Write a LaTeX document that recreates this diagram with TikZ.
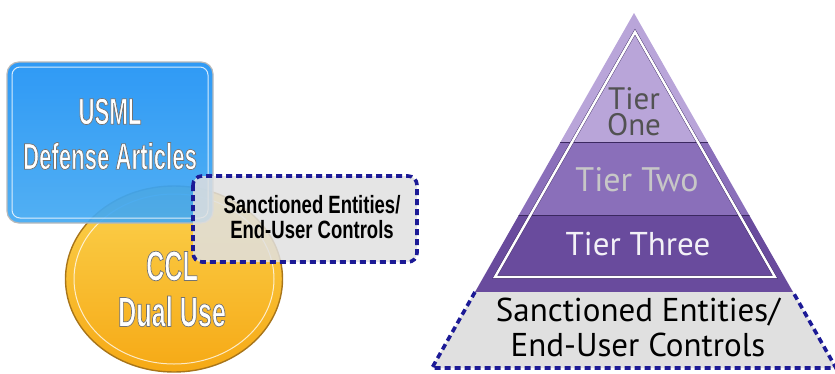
\documentclass[tikz,border=0pt]{standalone}
\usepackage{fontspec}
\setmainfont{PT Sans}
\newfontfamily\narrowfont[FakeStretch=0.6]{Liberation Sans Bold}
\newfontfamily\narrowboldfont[FakeStretch=0.74]{Liberation Sans Bold}
\definecolor{usmltop}{HTML}{1F92F4}
\definecolor{usmlbot}{HTML}{45AAF2}
\definecolor{ccltop}{HTML}{FBD24E}
\definecolor{cclbot}{HTML}{F6A915}
\definecolor{ccledge}{HTML}{A8751A}
\definecolor{sanctnavy}{HTML}{1C1A96}
\definecolor{sanctgray}{HTML}{E0E0E0}
\definecolor{tierone}{HTML}{B9A5D9}
\definecolor{tiertwo}{HTML}{8A6FBA}
\definecolor{tierthree}{HTML}{694B9D}
\definecolor{tierline}{HTML}{3B2860}
\newcommand\outl[1]{\special{pdf:literal direct 2 Tr 0.7 w 0.45 0.45 0.45 RG}#1\special{pdf:literal direct 0 Tr}}
\tikzset{
	sanctline/.style={draw=sanctnavy, line width=3.6pt, dash pattern=on 6pt off 4pt},
	bandline/.style={draw=tierline, line width=1pt},
	whitetext/.style={text=white, align=center, font={\narrowfont\fontsize{37}{45}\selectfont}},
	tiertext/.style={align=center, font={\fontsize{33}{25}\selectfont}}
}
\begin{document}
\begin{tikzpicture}[x=1pt, y=-1pt]
	\useasboundingbox (0,0) rectangle (835,373);
	\shade[top color=ccltop, bottom color=cclbot, draw=ccledge, line width=1.4pt] (174,279) ellipse (108.5 and 93);
	\draw[white, opacity=0.75, line width=1pt] (174,279) ellipse (100 and 85);
	\shade[top color=usmltop, bottom color=usmlbot, fill opacity=0.93, draw=gray!55, line width=1.2pt, rounded corners=12pt] (7,62) rectangle (213,223);
	\draw[white, opacity=0.8, line width=1pt, rounded corners=8pt] (12,67) rectangle (208,218);
	\fill[sanctgray, fill opacity=0.85, rounded corners=9pt] (193,176) rectangle (417,262);
	\draw[sanctline, rounded corners=9pt] (193,176) rectangle (417,262);
	\node[whitetext] at (110,134) (usml) {\outl{USML}\\\outl{Defense Articles}};
	\node[whitetext, font={\narrowfont\fontsize{42}{46}\selectfont}] at (172,289) (ccl) {\outl{CCL}\\\outl{Dual Use}};
	\node[align=center, font={\narrowboldfont\fontsize{25}{25}\selectfont}] at (312,217) (sanctleft) {Sanctioned Entities/\\End-User Controls};
	\begin{scope}
		\clip (634,13) -- (475,292) -- (793,292) -- cycle;
		\fill[tierone] (400,0) rectangle (870,142);
		\fill[tiertwo] (400,142) rectangle (870,215);
		\fill[tierthree] (400,215) rectangle (870,292);
		\draw[bandline] (400,142) -- (870,142);
		\draw[bandline] (400,215) -- (870,215);
	\end{scope}
	\draw[tierline, line width=3.2pt] (635,32) -- (495,277) -- (775,277) -- cycle;
	\draw[white, line width=2.4pt] (635,32) -- (495,277) -- (775,277) -- cycle;
	\fill[sanctgray] (475,292) -- (432,368) -- (836,368) -- (793,292) -- cycle;
	\draw[sanctline] (475,292) -- (432,368) -- (836,368) -- (793,292);
	\node[tiertext, text=black!68, font={\fontsize{31}{26}\selectfont}] at (634,112) (tier1) {Tier\\One};
	\node[tiertext, text=black!22, font={\fontsize{34}{34}\selectfont}] at (637,180) (tier2) {Tier Two};
	\node[tiertext, text=white!92!tierthree] at (638,244) (tier3) {Tier Three};
	\node[tiertext, font={\fontsize{33}{35}\selectfont}] at (638,327) (sanctright) {Sanctioned Entities/\\End-User Controls};
\end{tikzpicture}
\end{document}
